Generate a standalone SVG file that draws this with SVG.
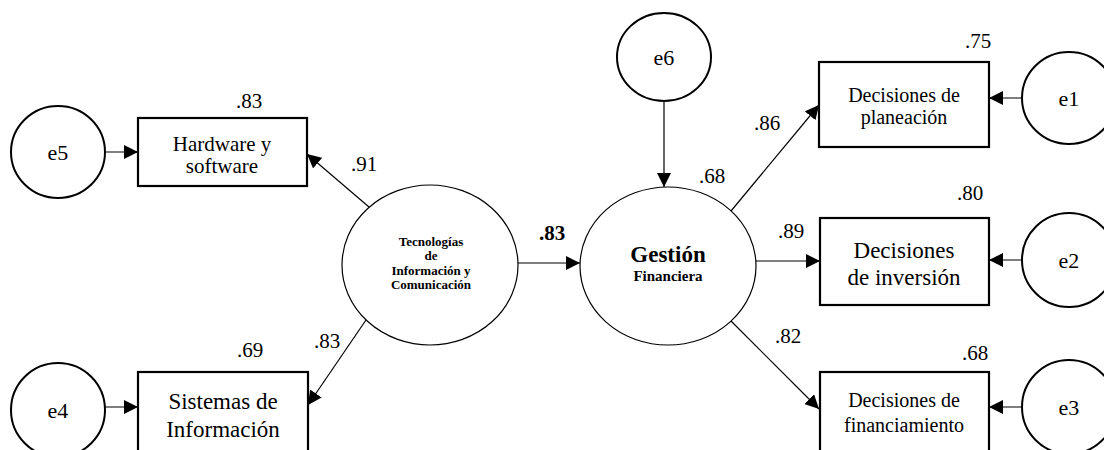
<svg xmlns="http://www.w3.org/2000/svg" width="1104" height="450" viewBox="0 0 1104 450">
  <style>
    text { font-family: "Liberation Serif", "Times New Roman", serif; fill: #000; text-anchor: middle; }
    .err { fill: #fff; stroke: #000; stroke-width: 2; }
    .lat { fill: #fff; stroke: #000; stroke-width: 1.2; }
    .obs { fill: #fff; stroke: #000; stroke-width: 2.2; }
    .edge { fill: none; stroke: #000; stroke-width: 1.2; marker-end: url(#arrow); }
    .lbl { font-size: 22px; }
    .coef { font-size: 21px; }
    .ename { font-size: 22px; }
  </style>
  <defs>
    <marker id="arrow" viewBox="0 0 14 14" refX="14" refY="7" markerWidth="14" markerHeight="14" markerUnits="userSpaceOnUse" orient="auto">
      <path d="M0,0 L14,7 L0,14 z" fill="#000"/>
    </marker>
  </defs>

  <!-- connectors -->
  <g id="connectors">
    <line class="edge" x1="105" y1="152" x2="138" y2="152"/>
    <line class="edge" x1="105" y1="407" x2="138" y2="407"/>
    <line class="edge" x1="369" y1="207" x2="307" y2="154"/>
    <line class="edge" x1="366" y1="320" x2="308" y2="405"/>
    <line class="edge" x1="518" y1="263" x2="580" y2="263"/>
    <line class="edge" x1="664" y1="101" x2="664" y2="187"/>
    <line class="edge" x1="731" y1="211" x2="819" y2="105"/>
    <line class="edge" x1="756" y1="261" x2="820" y2="261"/>
    <line class="edge" x1="731" y1="321" x2="819" y2="409"/>
    <line class="edge" x1="1022" y1="98" x2="989" y2="98"/>
    <line class="edge" x1="1022" y1="260" x2="989" y2="260"/>
    <line class="edge" x1="1022" y1="407" x2="989" y2="407"/>
  </g>

  <!-- path coefficients -->
  <g id="coefficients" class="coef">
    <text x="364" y="171" class="coef">.91</text>
    <text x="327" y="348" class="coef">.83</text>
    <text x="552" y="240" class="coef" font-weight="bold">.83</text>
    <text x="712" y="183" class="coef">.68</text>
    <text x="767" y="130" class="coef">.86</text>
    <text x="791" y="238" class="coef">.89</text>
    <text x="788" y="343" class="coef">.82</text>
  </g>

  <!-- error terms -->
  <g id="e5">
    <ellipse class="err" cx="58" cy="152" rx="47" ry="46"/>
    <text x="58" y="160" class="ename">e5</text>
  </g>
  <g id="e4">
    <ellipse class="err" cx="58" cy="410" rx="47" ry="47"/>
    <text x="58" y="418" class="ename">e4</text>
  </g>
  <g id="e6">
    <ellipse class="err" cx="664" cy="57" rx="47" ry="44"/>
    <text x="664" y="65" class="ename">e6</text>
  </g>
  <g id="e1">
    <ellipse class="err" cx="1069" cy="98" rx="47" ry="46"/>
    <text x="1069" y="106" class="ename">e1</text>
  </g>
  <g id="e2">
    <ellipse class="err" cx="1069" cy="260" rx="47" ry="47"/>
    <text x="1069" y="268" class="ename">e2</text>
  </g>
  <g id="e3">
    <ellipse class="err" cx="1069" cy="407" rx="47" ry="47"/>
    <text x="1069" y="415" class="ename">e3</text>
  </g>

  <!-- observed indicators -->
  <g id="hardware">
    <rect class="obs" x="138" y="118" width="169" height="68"/>
    <text x="222" y="151" font-size="21">Hardware y</text>
    <text x="222" y="173" font-size="21">software</text>
    <text x="249" y="108" class="coef">.83</text>
  </g>
  <g id="sistemas">
    <rect class="obs" x="138" y="372" width="170" height="92"/>
    <text x="223" y="409" font-size="23">Sistemas de</text>
    <text x="223" y="437" font-size="23">Información</text>
    <text x="250" y="357" class="coef">.69</text>
  </g>
  <g id="planeacion">
    <rect class="obs" x="819" y="62" width="170" height="85"/>
    <text x="904" y="102" font-size="20">Decisiones de</text>
    <text x="904" y="124" font-size="20">planeación</text>
    <text x="978" y="48" class="coef">.75</text>
  </g>
  <g id="inversion">
    <rect class="obs" x="820" y="218" width="169" height="87"/>
    <text x="904" y="258" font-size="23">Decisiones</text>
    <text x="904" y="285" font-size="23">de inversión</text>
    <text x="970" y="200" class="coef">.80</text>
  </g>
  <g id="financiamiento">
    <rect class="obs" x="820" y="372" width="169" height="92"/>
    <text x="904" y="407" font-size="20">Decisiones de</text>
    <text x="904" y="432" font-size="20">financiamiento</text>
    <text x="975" y="360" class="coef">.68</text>
  </g>

  <!-- latent constructs -->
  <g id="tic">
    <ellipse class="lat" cx="430" cy="265" rx="88" ry="80"/>
    <g font-weight="bold" font-size="13">
      <text x="431" y="246">Tecnologías</text>
      <text x="431" y="260">de</text>
      <text x="431" y="275">Información y</text>
      <text x="431" y="289">Comunicación</text>
    </g>
  </g>
  <g id="gestion">
    <ellipse class="lat" cx="668" cy="266" rx="88" ry="79"/>
    <text x="668" y="262" font-weight="bold" font-size="23">Gestión</text>
    <text x="668" y="281" font-weight="bold" font-size="15">Financiera</text>
  </g>
</svg>
